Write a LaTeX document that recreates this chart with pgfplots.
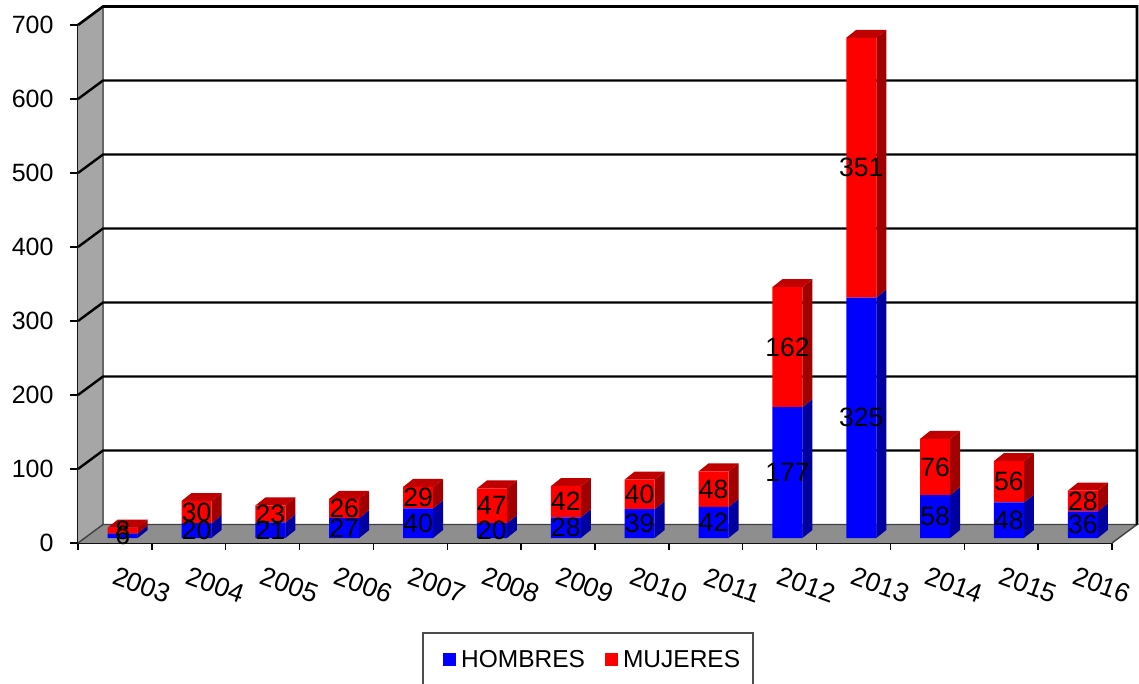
\documentclass[border=0pt]{standalone}
\usepackage{fontspec}
\setmainfont{Liberation Sans}
\usepackage{pgfplots}
\usepackage{pgfplotstable}
\pgfplotsset{compat=1.18}
\definecolor{wallc}{HTML}{A6A6A6}
\definecolor{floorc}{HTML}{8E8E8E}
\definecolor{bluefront}{HTML}{0000FF}
\definecolor{blueside}{HTML}{0000A0}
\definecolor{redfront}{HTML}{FF0000}
\definecolor{redside}{HTML}{A00000}
\definecolor{redtop}{HTML}{C00000}
\pgfplotstableread{
Year H M
2003 6 8
2004 20 30
2005 21 23
2006 27 26
2007 40 29
2008 20 47
2009 28 42
2010 39 40
2011 42 48
2012 177 162
2013 325 351
2014 58 76
2015 48 56
2016 36 28
}\chartdata
\newcommand{\yfont}{\fontsize{25}{29}\selectfont}
\newcommand{\xfont}{\fontsize{26.5}{30}\selectfont}
\newcommand{\dfont}{\fontsize{26.5}{30}\selectfont}
\newcommand{\lfont}{\fontsize{24.5}{28}\selectfont}
\pgfplotsset{inner/.style={scale only axis,width=1034pt,height=518pt,
  xmin=-0.51,xmax=13.49,ymin=0,ymax=700,hide axis,clip=false,
  at={(85pt,145pt)},anchor=south west}}
\begin{document}
\begin{tikzpicture}
\path[use as bounding box] (0,0) rectangle (1139pt,683pt);
% frame: walls, floor, grid, ticks
\begin{axis}[
  scale only axis,width=1034pt,height=518pt,at={(78pt,140pt)},anchor=south west,
  xmin=0,xmax=14,ymin=0,ymax=700,clip=false,
  axis x line*=bottom,axis y line*=left,
  axis line style={black,line width=2.4pt,-},
  xtick={0.5,1.5,...,13.5},
  xticklabels={2003,2004,2005,2006,2007,2008,2009,2010,2011,2012,2013,2014,2015,2016},
  minor xtick={0,1,...,14},
  major x tick style={draw=none},
  minor x tick style={black,line width=1.4pt},
  minor tick length=7pt,
  ytick={0,100,...,700},
  major y tick style={black,line width=1.4pt},
  major tick length=8pt,
  tick align=outside,
  /pgf/number format/assume math mode=true,
  y tick label style={font=\yfont,black,xshift=-13pt},
  x tick label style={font=\xfont,black,rotate=-20,anchor=center,xshift=37pt,yshift=-23pt},
]
\addplot[fill=wallc,draw=none,forget plot] coordinates {(0,0) (0.3385,25) (0.3385,725) (0,700)} -- cycle;
\addplot[fill=floorc,draw=none,forget plot] coordinates {(0,0) (0.3385,25) (14.3385,25) (14,0)} -- cycle;
\addplot[color=black!60,line width=1.4pt,forget plot] coordinates {(0.3385,25) (0.3385,725)};
\addplot[color=black!75,line width=1.4pt,forget plot] coordinates {(0,0) (0.3385,25) (14.3385,25) (14,0)};
\addplot[black,line width=2.4pt,forget plot] coordinates {(0,100) (0.3385,125) (14.3385,125)};
\addplot[black,line width=2.4pt,forget plot] coordinates {(0,200) (0.3385,225) (14.3385,225)};
\addplot[black,line width=2.4pt,forget plot] coordinates {(0,300) (0.3385,325) (14.3385,325)};
\addplot[black,line width=2.4pt,forget plot] coordinates {(0,400) (0.3385,425) (14.3385,425)};
\addplot[black,line width=2.4pt,forget plot] coordinates {(0,500) (0.3385,525) (14.3385,525)};
\addplot[black,line width=2.4pt,forget plot] coordinates {(0,600) (0.3385,625) (14.3385,625)};
\addplot[black,line width=2.6pt,forget plot] coordinates {(0,700) (0.3385,725) (14.3385,725) (14.3385,25)};
\end{axis}
% bar depth faces
\begin{axis}[inner]
\def\hw{0.2031}\def\ddx{0.1354}\def\ddy{10.81}
\pgfplotsinvokeforeach{0,1,...,13}{%
  \pgfplotstablegetelem{#1}{H}\of\chartdata\let\valH\pgfplotsretval
  \pgfplotstablegetelem{#1}{M}\of\chartdata\let\valM\pgfplotsretval
  \pgfmathsetmacro\xl{#1-\hw}%
  \pgfmathsetmacro\xr{#1+\hw}%
  \pgfmathsetmacro\xrb{\xr+\ddx}%
  \pgfmathsetmacro\xlb{\xl+\ddx}%
  \pgfmathsetmacro\yH{\valH}%
  \pgfmathsetmacro\yHb{\valH+\ddy}%
  \pgfmathsetmacro\yT{\valH+\valM}%
  \pgfmathsetmacro\yTb{\valH+\valM+\ddy}%
  \edef\cmd{%
    \noexpand\addplot[fill=blueside,draw=none,forget plot] coordinates {(\xr,0) (\xrb,\ddy) (\xrb,\yHb) (\xr,\yH)} -- cycle;
    \noexpand\addplot[fill=redside,draw=none,forget plot] coordinates {(\xr,\yH) (\xrb,\yHb) (\xrb,\yTb) (\xr,\yT)} -- cycle;
    \noexpand\addplot[fill=redtop,draw=none,forget plot] coordinates {(\xl,\yT) (\xlb,\yTb) (\xrb,\yTb) (\xr,\yT)} -- cycle;
  }\cmd
}
\end{axis}
% front faces
\begin{axis}[inner,ybar stacked,bar width=30pt,
  legend style={at={(rel axis cs:0,0)},anchor=north west,draw=none,fill=none,
    xshift=358pt,yshift=-110pt,legend columns=2,font=\lfont,
    /tikz/every even column/.append style={column sep=18pt},
    inner sep=0pt,nodes={inner sep=2pt}},
  legend image code/.code={\fill[#1,draw=none] (0pt,-6.5pt) rectangle (13pt,6.5pt);\path (16pt,0pt);},
]
\addplot[fill=bluefront,draw=none] table[x expr=\coordindex,y=H] {\chartdata};
\addplot[fill=redfront,draw=none] table[x expr=\coordindex,y=M] {\chartdata};
\legend{HOMBRES,MUJERES}
\end{axis}
% value labels
\begin{axis}[inner,
  nodes near coords,point meta=explicit symbolic,
  every node near coord/.style={anchor=center,font=\dfont,text=black,inner sep=0pt},
]
\addplot[draw=none,mark=none] table[x expr=\coordindex,y expr=\thisrow{H}/2,meta=H] {\chartdata};
\addplot[draw=none,mark=none] table[x expr=\coordindex,y expr=\thisrow{H}+\thisrow{M}/2,meta=M] {\chartdata};
\end{axis}
\draw[black!70,line width=1.3pt] (423pt,-2pt) -- (423pt,50pt) -- (753pt,50pt) -- (753pt,-2pt);
\end{tikzpicture}
\end{document}
